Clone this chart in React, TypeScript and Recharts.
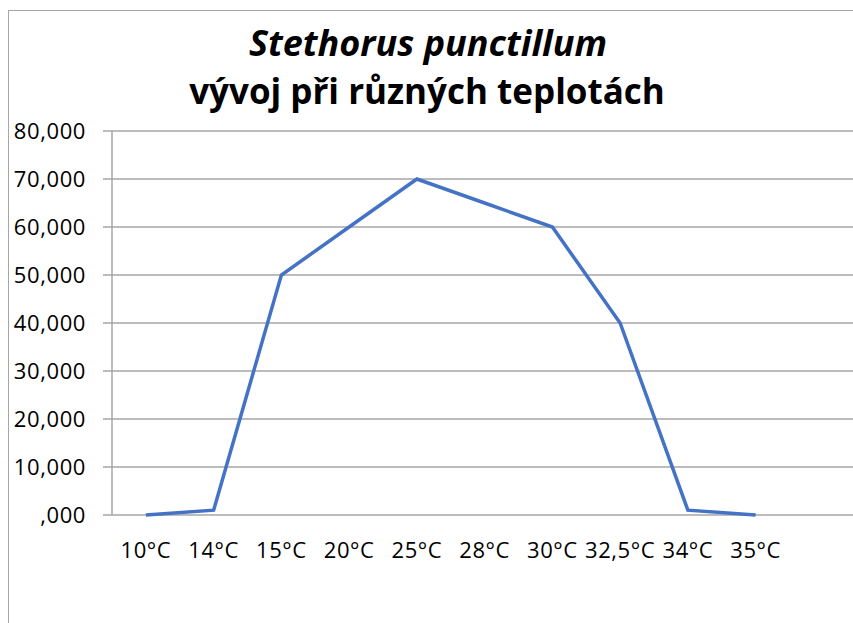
import React from 'react';
import { LineChart, Line, XAxis, YAxis, CartesianGrid } from 'recharts';

const categories = ['10°C', '14°C', '15°C', '20°C', '25°C', '28°C', '30°C', '32,5°C', '34°C', '35°C'];
const values = [0, 1, 50, 60, 70, 65, 60, 40, 1, 0];
const yTicks = [0, 10, 20, 30, 40, 50, 60, 70, 80];
const slotCount = 11; // 10 categories + one empty slot at the right
const titleLine1 = 'Stethorus punctillum';
const titleLine2 = 'vývoj při různých teplotách';

const data = categories.map((c, i) => ({ x: i + 0.5, cat: c, v: values[i] }));
const boundaryTicks = Array.from({ length: slotCount + 1 }, (_, i) => i);
const labelTicks = categories.map((_, i) => i + 0.5);

const FONT = '"Open Sans", "Noto Sans", sans-serif';
const GRID = '#a6a6a6';

const fmtY = (v: number) => (v === 0 ? ',000' : v.toFixed(3).replace('.', ','));
const fmtX = (v: number) => categories[Math.floor(v)] ?? '';

export default function App() {
  return (
    <div style={{ position: 'absolute', left: 0, top: 0, width: 853, height: 623, overflow: 'hidden', background: '#fff' }}>
      <div style={{ position: 'absolute', left: 8, top: 10, width: 1000, height: 1000, borderLeft: `1px solid ${GRID}`, borderTop: `1px solid ${GRID}` }} />
      <div style={{ position: 'absolute', left: 0, top: 0 }}>
        <LineChart width={870} height={623} data={data} margin={{ top: 131, right: 12.75, bottom: 0, left: 0 }}>
          <CartesianGrid vertical={false} stroke={GRID} strokeWidth={1.5} />
          <XAxis
            xAxisId="b"
            dataKey="x"
            type="number"
            domain={[0, slotCount]}
            ticks={boundaryTicks}
            interval={0}
            tick={false}
            height={0}
            tickSize={8}
            stroke={GRID}
            axisLine={{ stroke: GRID, strokeWidth: 1.5 }}
            tickLine={{ stroke: GRID, strokeWidth: 1.5 }}
          />
          <XAxis
            xAxisId="l"
            dataKey="x"
            type="number"
            domain={[0, slotCount]}
            ticks={labelTicks}
            interval={0}
            tickFormatter={fmtX}
            axisLine={false}
            tickLine={false}
            tickSize={0}
            tickMargin={27}
            height={108}
            tick={{ fill: '#000', fontSize: 22, fontFamily: FONT, letterSpacing: 0.6 }}
          />
          <YAxis
            domain={[0, 80]}
            ticks={yTicks}
            interval={0}
            width={112}
            tickFormatter={fmtY}
            tickSize={9}
            tickMargin={17}
            axisLine={{ stroke: GRID, strokeWidth: 1.5 }}
            tickLine={{ stroke: GRID, strokeWidth: 1.5 }}
            tick={{ fill: '#000', fontSize: 22, fontFamily: FONT, letterSpacing: 0.6 }}
          />
          <Line
            xAxisId="b"
            dataKey="v"
            type="linear"
            stroke="#4472C4"
            strokeWidth={3.5}
            dot={false}
            isAnimationActive={false}
          />
        </LineChart>
      </div>
      <svg width={853} height={130} style={{ position: 'absolute', left: 0, top: 0 }}>
        <text x={428} y={56} textAnchor="middle" fontFamily={FONT} fontWeight={700} fontStyle="italic" fontSize={36} fill="#000">
          {titleLine1}
        </text>
        <text x={427} y={104} textAnchor="middle" fontFamily={FONT} fontWeight={700} fontSize={35} fill="#000">
          {titleLine2}
        </text>
      </svg>
    </div>
  );
}
